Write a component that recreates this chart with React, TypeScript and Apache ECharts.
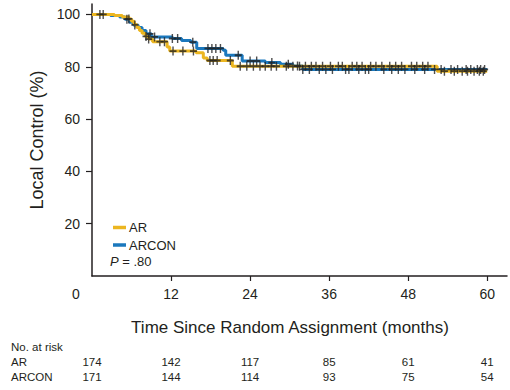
import React, { useEffect, useRef } from "react";
import * as echarts from "echarts";

// Kaplan-Meier step data (time in months, local control %)
const arTimes = [0, 3.4, 4.6, 5.6, 6.0, 6.4, 6.8, 7.2, 7.6, 8.1, 8.6, 9.2, 11.4, 11.8, 15.8, 16.9, 17.5, 21.3, 52.4, 60];
const arSurv = [100, 99.6, 99.0, 98.3, 97.4, 96.2, 95.0, 93.9, 92.8, 91.6, 90.6, 89.6, 87.6, 86.0, 85.4, 83.4, 82.4, 80.2, 78.3, 78.3];

const arconTimes = [0, 2.8, 4.2, 5.0, 5.7, 6.3, 7.0, 7.6, 8.2, 9.0, 12.2, 13.6, 15.0, 15.9, 19.9, 20.3, 22.8, 26.3, 28.6, 30.5, 32.0, 60];
const arconSurv = [100, 99.6, 99.0, 98.2, 97.0, 96.0, 95.0, 93.9, 92.6, 91.4, 90.8, 90.0, 89.4, 87.0, 86.3, 84.4, 82.2, 81.6, 81.0, 80.3, 79.0, 79.0];

// censoring times
const arCensor = [1.7, 5.6, 8.2, 8.6, 10.3, 11.0, 12.3, 13.8, 15.4, 17.9, 18.4, 19.0, 21.0, 22.5, 23.5, 24.5, 25.5, 26.3, 27.2, 28.0, 29.5, 30.5, 31.5, 32.4, 33.3, 34.0, 35.0, 36.2, 37.4, 38.0, 39.5, 40.2, 41.0, 42.3, 43.1, 44.0, 45.2, 46.1, 47.0, 48.5, 49.3, 50.2, 51.0, 53.5, 55.0, 56.2, 57.0, 58.0, 58.8, 59.4];
const arconCensor = [1.2, 5.3, 6.5, 8.8, 9.5, 12.2, 13.0, 15.3, 17.6, 18.2, 18.8, 19.5, 22.2, 24.0, 25.0, 27.3, 29.8, 31.2, 32.0, 33.0, 34.5, 35.5, 36.5, 38.5, 39.0, 40.5, 41.5, 42.0, 44.3, 45.5, 46.5, 47.5, 49.0, 50.5, 52.0, 53.0, 54.5, 55.5, 56.8, 57.5, 58.5, 59.0, 59.6];

const xTicks = [12, 24, 36, 48, 60];
const yTicks = [20, 40, 60, 80, 100];
const riskTimes = [0, 12, 24, 36, 48, 60];
const arRisk = [174, 142, 117, 85, 61, 41];
const arconRisk = [171, 144, 114, 93, 75, 54];

const AR_COLOR = "#ECB620";
const ARCON_COLOR = "#1B78BD";
const INK = "#231F20";
const FONT = "'Liberation Sans', Arial, sans-serif";
const PLUS = "path://M4,0h2v4h4v2h-4v4h-2v-4h-4v-2h4z";

function valueAt(times: number[], surv: number[], t: number) {
  let v = surv[0];
  for (let i = 0; i < times.length; i++) {
    if (times[i] <= t) v = surv[i];
  }
  return v;
}

function riskAxis(values: number[], offset: number) {
  return {
    type: "value",
    gridIndex: 0,
    position: "bottom",
    offset,
    min: 0,
    max: 63,
    interval: 12,
    axisLine: { show: false },
    axisTick: { show: false },
    splitLine: { show: false },
    axisLabel: {
      margin: 0,
      verticalAlign: "middle",
      fontSize: 11.5,
      fontFamily: FONT,
      color: INK,
      showMaxLabel: false,
      formatter: (v: number) => {
        const i = riskTimes.indexOf(v);
        return i >= 0 ? String(values[i]) : "";
      },
    },
  };
}

export default function App() {
  const ref = useRef<HTMLDivElement>(null);
  useEffect(() => {
    if (!ref.current) return;
    const chart = echarts.init(ref.current, undefined, { renderer: "svg" });
    const option: any = {
      animation: false,
      backgroundColor: "#ffffff",
      textStyle: { fontFamily: FONT, color: INK },
      grid: { left: 92, right: 3, top: 4, bottom: 114 },
      legend: {
        data: ["AR", "ARCON"],
        orient: "vertical",
        left: 108,
        top: 216,
        icon: "rect",
        itemWidth: 13,
        itemHeight: 3.5,
        itemGap: 4.5,
        textStyle: { fontSize: 13, color: INK, fontFamily: FONT, padding: [0, 0, 0, -2] },
      },
      xAxis: [
        {
          type: "value",
          min: 0,
          max: 63,
          interval: 12,
          name: "Time Since Random Assignment (months)",
          nameLocation: "middle",
          nameGap: 43,
          nameTextStyle: { fontSize: 17, color: INK, fontFamily: FONT, padding: [0, 19, 0, 0] },
          axisLine: { lineStyle: { color: INK, width: 1.5 } },
          axisTick: { customValues: xTicks, length: 5, lineStyle: { color: INK, width: 1.2 } },
          axisLabel: {
            customValues: xTicks,
            margin: 11,
            fontSize: 14,
            color: INK,
            fontFamily: FONT,
            formatter: (v: number) => (xTicks.indexOf(v) >= 0 ? String(v) : ""),
          },
          splitLine: { show: false },
        },
        riskAxis(arRisk, 86),
        riskAxis(arconRisk, 101),
      ],
      yAxis: {
        type: "value",
        min: 0,
        max: 104,
        interval: 20,
        name: "Local Control (%)",
        nameLocation: "middle",
        nameGap: 44,
        nameTextStyle: { fontSize: 18, color: INK, fontFamily: FONT },
        axisLine: { show: true, lineStyle: { color: INK, width: 1.5 } },
        axisTick: { show: true, customValues: yTicks, length: 6, lineStyle: { color: INK, width: 1.2 } },
        axisLabel: {
          customValues: yTicks,
          margin: 12,
          fontSize: 14,
          color: INK,
          fontFamily: FONT,
          formatter: (v: number) => (yTicks.indexOf(v) >= 0 ? String(v) : ""),
        },
        splitLine: { show: false },
      },
      graphic: [
        { type: "text", left: 72, top: 287, style: { text: "0", fontSize: 14, fill: INK, fontFamily: FONT } },
        {
          type: "text",
          left: 110,
          top: 255,
          style: {
            text: "{i|P} = .80",
            fontSize: 13,
            fill: INK,
            fontFamily: FONT,
            rich: { i: { fontStyle: "italic", fontSize: 13, fontFamily: FONT } },
          },
        },
        { type: "text", left: 11, top: 341, style: { text: "No. at risk", fontSize: 11.5, fill: INK, fontFamily: FONT } },
        { type: "text", left: 11, top: 356, style: { text: "AR", fontSize: 11.5, fill: INK, fontFamily: FONT } },
        { type: "text", left: 11, top: 371, style: { text: "ARCON", fontSize: 11.5, fill: INK, fontFamily: FONT } },
      ],
      series: [
        {
          name: "ARCON",
          type: "line",
          step: "end",
          showSymbol: false,
          symbol: "none",
          color: ARCON_COLOR,
          lineStyle: { color: ARCON_COLOR, width: 3 },
          data: arconTimes.map((t, i) => [t, arconSurv[i]]),
          z: 2,
        },
        {
          name: "AR",
          type: "line",
          step: "end",
          showSymbol: false,
          symbol: "none",
          color: AR_COLOR,
          lineStyle: { color: AR_COLOR, width: 3 },
          data: arTimes.map((t, i) => [t, arSurv[i]]),
          z: 3,
        },
        {
          name: "ARCON censored",
          type: "scatter",
          symbol: PLUS,
          symbolSize: [7, 9],
          itemStyle: { color: "#222222" },
          data: arconCensor.map((t) => [t, valueAt(arconTimes, arconSurv, t)]),
          z: 4,
          silent: true,
        },
        {
          name: "AR censored",
          type: "scatter",
          symbol: PLUS,
          symbolSize: [7, 9],
          itemStyle: { color: "#222222" },
          data: arCensor.map((t) => [t, valueAt(arTimes, arSurv, t)]),
          z: 4,
          silent: true,
        },
      ],
    };
    chart.setOption(option);
    return () => chart.dispose();
  }, []);
  return (
    <div
      ref={ref}
      style={{ position: "fixed", left: 0, top: 0, width: 510, height: 390, background: "#fff" }}
    />
  );
}
